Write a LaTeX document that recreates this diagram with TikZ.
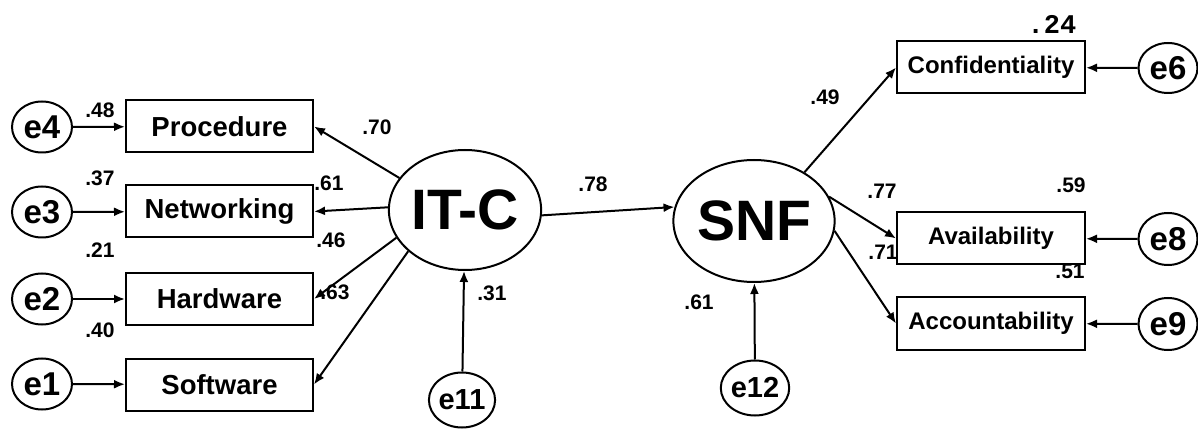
\documentclass[tikz,border=0pt]{standalone}
\usepackage{fontspec}
\setmainfont{Liberation Sans}
\newfontfamily\monof{Liberation Mono}
\usetikzlibrary{arrows.meta,shapes.geometric}
\begin{document}
\begin{tikzpicture}[x=1pt,y=-1pt,
  line width=2pt,
  arr/.style={-{Latex[length=11pt,width=9pt]}},
  obsbox/.style={draw,rectangle,minimum width=187pt,minimum height=52pt,inner sep=0pt},
  lbox/.style={obsbox,font=\fontsize{27.5}{28}\selectfont\bfseries},
  rbox/.style={obsbox,minimum width=188pt,font=\fontsize{24}{24}\selectfont\bfseries},
  err/.style={draw,ellipse,minimum width=60pt,minimum height=51pt,inner sep=0pt,font=\fontsize{33}{33}\selectfont\bfseries},
  errs/.style={draw,ellipse,minimum width=61pt,minimum height=55pt,inner sep=0pt,font=\fontsize{29}{29}\selectfont\bfseries},
  lat/.style={draw,ellipse,inner sep=0pt,font=\fontsize{57}{57}\selectfont\bfseries},
  num/.style={inner sep=0pt,font=\fontsize{21}{21}\selectfont\bfseries}]
\useasboundingbox (0,0) rectangle (1198,435);
% left indicators
\node[lbox] (proc) at (219.5,126.5) {Procedure};
\node[lbox] (netw) at (219.5,211.5) {Networking};
\node[lbox] (hard) at (219.5,299) {Hardware};
\node[lbox] (soft) at (219.5,384.5) {Software};
\node[err] (e4) at (42,127) {e4};
\node[err] (e3) at (42,212) {e3};
\node[err] (e2) at (42,299) {e2};
\node[err] (e1) at (42,384) {e1};
% latent
\node[lat,minimum width=150pt,minimum height=120pt] (itc) at (465,210) {IT-C};
\node[lat,minimum width=144pt,minimum height=122pt] (snf) at (754,221) {SNF};
\node[errs] (e11) at (462,400) {e11};
\node[errs] (e12) at (755,388) {e12};
% right indicators
\node[rbox] (conf) at (991,67.5) {Confidentiality};
\node[rbox] (avail) at (991,238.5) {Availability};
\node[rbox] (acc) at (991,323.5) {Accountability};
\node[err,minimum width=59pt,minimum height=50pt] (e6) at (1168,68) {e6};
\node[err,minimum width=59pt,minimum height=52pt] (e8) at (1168,239) {e8};
\node[err,minimum width=59pt,minimum height=52pt] (e9) at (1168,324) {e9};
% arrows
\draw[arr] (e4) -- (proc);
\draw[arr] (e3) -- (netw);
\draw[arr] (e2) -- (hard);
\draw[arr] (e1) -- (soft);
\draw[arr] (itc.154) -- (proc.east);
\draw[arr] (itc.178) -- (netw.east);
\draw[arr] (itc.202) -- (hard.east);
\draw[arr] (itc.216) -- (soft.east);
\draw[arr] (itc.-4) -- (snf.170);
\draw[arr] (e11) -- (itc);
\draw[arr] (e12) -- (snf);
\draw[arr] (snf.44) -- (conf.west);
\draw[arr] (snf.18) -- (avail.west);
\draw[arr] (snf.-7) -- (acc.west);
\draw[arr] (e6) -- (conf);
\draw[arr] (e8) -- (avail);
\draw[arr] (e9) -- (acc);
% labels
\node[num] (l48) at (100,110) {.48};
\node[num] (l37) at (100,178) {.37};
\node[num] (l21) at (100,250) {.21};
\node[num] (l40) at (100,330) {.40};
\node[num] (l70) at (377,127) {.70};
\node[num] (l61) at (329,183) {.61};
\node[num] (l46) at (331,240) {.46};
\node[num] (l63) at (335,292) {.63};
\node[num] (l78) at (593,184) {.78};
\node[num] (l31) at (492,293) {.31};
\node[num] (l61b) at (699,302) {.61};
\node[num] (l49) at (825,97) {.49};
\node[inner sep=0pt,font=\fontsize{27}{27}\selectfont\monof\bfseries] (l24) at (1052,24) {.24};
\node[num] (l77) at (882,191) {.77};
\node[num] (l59) at (1071,185) {.59};
\node[num] (l71) at (883,252) {.71};
\node[num] (l51) at (1070,271) {.51};
\end{tikzpicture}
\end{document}
